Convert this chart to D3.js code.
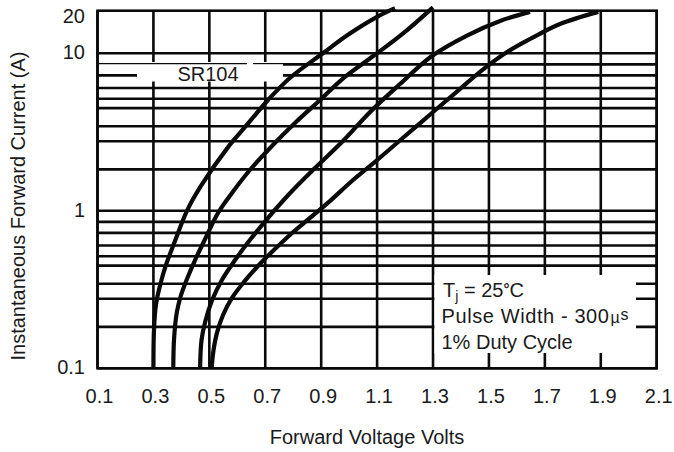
<!DOCTYPE html>
<html>
<head>
<meta charset="utf-8">
<script src="https://cdn.jsdelivr.net/npm/d3@7"></script>
<style>
  body { margin: 0; background: #fff; }
  text { font-family: "Liberation Sans", Arial, Helvetica, sans-serif; fill: #1a1a1a; }
</style>
</head>
<body>
<svg id="chart" width="674" height="452"></svg>
<script>
// ---------------- DATA ----------------
const xTickValues = [0.1, 0.3, 0.5, 0.7, 0.9, 1.1, 1.3, 1.5, 1.7, 1.9, 2.1];
const xTickLabels = ["0.1", "0.3", "0.5", "0.7", "0.9", "1.1", "1.3", "1.5", "1.7", "1.9", "2.1"];
const yGridValues = [0.1, 0.2, 0.3, 0.4, 0.5, 0.6, 0.7, 0.8, 0.9, 1, 2, 3, 4, 5, 6, 7, 8, 9, 10, 20];
const yTickValues = [0.1, 1, 10, 20];
const yTickLabels = ["0.1", "1", "10", "20"];

// Forward voltage (V) and instantaneous forward current (A)
const curve1V = [0.300, 0.302, 0.309, 0.324, 0.345, 0.377, 0.420, 0.470, 0.567, 0.628, 0.710, 0.788, 0.906, 0.992, 1.100, 1.164];
const curve1I = [0.1, 0.192, 0.278, 0.391, 0.507, 0.735, 1.0, 1.60, 2.79, 3.95, 5.87, 7.79, 10, 14.3, 18.8, 20.9];
const curve2V = [0.371, 0.374, 0.384, 0.399, 0.420, 0.449, 0.485, 0.531, 0.581, 0.645, 0.724, 0.810, 0.896, 0.985, 1.100, 1.193, 1.300];
const curve2I = [0.1, 0.173, 0.253, 0.325, 0.426, 0.560, 0.751, 0.98, 1.43, 1.985, 2.83, 4.23, 5.87, 7.87, 10, 14.8, 21.1];
const curve3V = [0.467, 0.472, 0.485, 0.510, 0.545, 0.592, 0.645, 0.708, 0.789, 0.878, 0.978, 1.075, 1.182, 1.296, 1.425, 1.540, 1.647];
const curve3I = [0.1, 0.168, 0.217, 0.295, 0.421, 0.560, 0.743, 0.93, 1.43, 2.05, 3.01, 4.79, 7.31, 9.75, 14.4, 17.8, 20];
const curve4V = [0.508, 0.515, 0.527, 0.549, 0.581, 0.624, 0.674, 0.731, 0.796, 0.860, 0.932, 1.010, 1.100, 1.196, 1.296, 1.396, 1.486, 1.565, 1.647, 1.754, 1.891];
const curve4I = [0.1, 0.144, 0.185, 0.242, 0.305, 0.41, 0.498, 0.658, 0.799, 0.935, 1.24, 1.72, 2.33, 3.28, 4.73, 6.90, 8.67, 10.3, 13.45, 17.07, 20];

const partLabel = "SR104";
const conditionLines = ["Pulse Width - 300", "1% Duty Cycle"];
const xTitle = "Forward Voltage Volts";
const yTitle = "Instantaneous Forward Current (A)";

// ---------------- LAYOUT ----------------
const plot = { left: 97.5, right: 656.7, top: 10.7, bottom: 368.3 };
const decadePx = 157.5;
// drawn position of mantissa 1..10 inside one decade of the original (hand-ruled) log paper
const mantissaFrac = d3.scaleLinear().domain([1, 2, 3, 4, 5, 6, 7, 8, 9, 10])
  .range([0, 0.263, 0.442, 0.537, 0.652, 0.711, 0.780, 0.860, 0.930, 1]);
function paperPos(v) {
  const d = Math.floor(Math.log10(v) + 1e-9);
  const m = v / Math.pow(10, d);
  return d + mantissaFrac(m);
}
const x = d3.scaleLinear().domain([0.1, 2.1]).range([plot.left, plot.right]);
const y = d3.scaleLinear()
  .domain(yGridValues)
  .range(yGridValues.map(v => plot.bottom - (paperPos(v) + 1) * decadePx));

const svg = d3.select("#chart");
const ink = "#0a0a0a";
const gridW = 2.6;

// grid
const grid = svg.append("g");
grid.selectAll("line.v").data(xTickValues).join("line")
  .attr("x1", d => x(d)).attr("x2", d => x(d))
  .attr("y1", plot.top).attr("y2", plot.bottom)
  .attr("stroke", ink).attr("stroke-width", gridW);
grid.selectAll("line.h").data(yGridValues.filter(v => v < 20)).join("line")
  .attr("x1", plot.left).attr("x2", plot.right)
  .attr("y1", d => y(d)).attr("y2", d => y(d))
  .attr("stroke", ink).attr("stroke-width", gridW);

// SR104 label box
svg.append("rect").attr("x", plot.left + 1.4).attr("y", y(9) - 2.2)
  .attr("width", 283 - plot.left - 1.4).attr("height", 4.4).attr("fill", "#fff");
svg.append("rect").attr("x", 137).attr("y", y(9) - 2.2)
  .attr("width", 146).attr("height", 81.5 - y(9) + 2.2).attr("fill", "#fff");
svg.append("line").attr("x1", plot.left).attr("x2", 247)
  .attr("y1", 63.6).attr("y2", 63.6).attr("stroke", ink).attr("stroke-width", 1.2);
svg.append("line").attr("x1", 253).attr("x2", 283)
  .attr("y1", 63.6).attr("y2", 63.6).attr("stroke", ink).attr("stroke-width", 1.2);
svg.append("text").attr("x", 208).attr("y", 81).attr("text-anchor", "middle")
  .attr("font-size", 20).text(partLabel);

// Conditions box
svg.append("rect").attr("x", x(1.3) + 1.4).attr("y", 275)
  .attr("width", 636 - x(1.3) - 1.4).attr("height", 78).attr("fill", "#fff");
const t1 = svg.append("text").attr("x", 443).attr("y", 297).attr("font-size", 20);
t1.append("tspan").text("T");
t1.append("tspan").attr("font-size", 14).attr("dy", 4).text("j");
t1.append("tspan").attr("dy", -4).text(" = 25");
t1.append("tspan").attr("font-size", 15).attr("dy", -3).attr("font-weight", "bold").text("°");
t1.append("tspan").attr("dy", 3).text("C");
const t2 = svg.append("text").attr("x", 441.5).attr("y", 323).attr("font-size", 20)
  .attr("letter-spacing", 0.6);
t2.append("tspan").text(conditionLines[0]);
t2.append("tspan").attr("font-size", 16).attr("dx", 1).text("µ");
t2.append("tspan").attr("font-size", 16).attr("dy", -3).text("s");
svg.append("text").attr("x", 441.5).attr("y", 348.5).attr("font-size", 20).text(conditionLines[1]);

// frame
svg.append("rect").attr("x", plot.left).attr("y", plot.top)
  .attr("width", plot.right - plot.left).attr("height", plot.bottom - plot.top)
  .attr("fill", "none").attr("stroke", ink).attr("stroke-width", gridW);

// curves
const curves = [[curve1V, curve1I], [curve2V, curve2I], [curve3V, curve3I], [curve4V, curve4I]];
const line = d3.line().x(d => x(d[0])).y(d => y(d[1])).curve(d3.curveCatmullRom.alpha(0.5));
svg.append("g")
  .selectAll("path").data(curves).join("path")
  .attr("d", c => line(c[0].map((v, i) => [v, c[1][i]])))
  .attr("fill", "none").attr("stroke", ink).attr("stroke-width", 4.2)
  .attr("stroke-linecap", "butt").attr("stroke-linejoin", "round");

// tick labels
svg.append("g").selectAll("text").data(xTickValues).join("text")
  .attr("x", d => x(d) + 2).attr("y", 403).attr("text-anchor", "middle")
  .attr("font-size", 20).text((d, i) => xTickLabels[i]);
svg.append("g").selectAll("text").data(yTickValues).join("text")
  .attr("x", 85).attr("y", d => Math.max(y(d) + 6, 23.3)).attr("text-anchor", "end")
  .attr("font-size", 20).text((d, i) => yTickLabels[i]);

// axis titles
svg.append("text").attr("x", 367).attr("y", 444).attr("text-anchor", "middle")
  .attr("font-size", 20).text(xTitle);
svg.append("text").attr("transform", "translate(25,206) rotate(-90)")
  .attr("text-anchor", "middle").attr("font-size", 20).text(yTitle);
</script>
</body>
</html>
